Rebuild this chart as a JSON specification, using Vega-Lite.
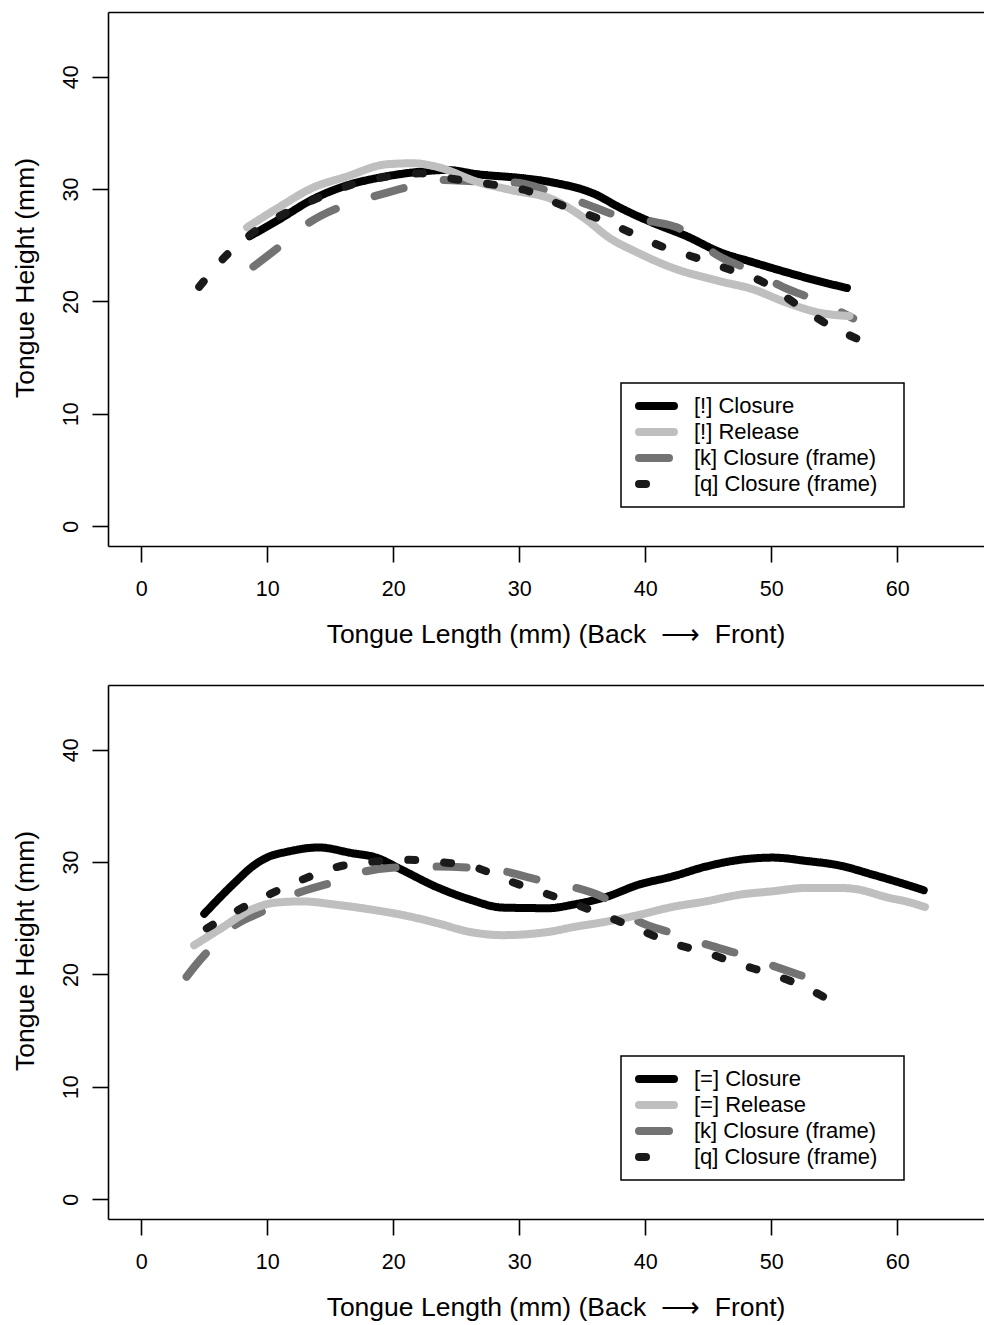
{
  "$schema": "https://vega.github.io/schema/vega-lite/v6.json",
  "padding": {"left": 12, "top": 12, "right": 0, "bottom": 0},
  "spacing": 37,
  "config": {
    "font": "Liberation Sans",
    "view": {"stroke": null},
    "axis": {"domainColor": "black", "domainWidth": 1.6, "tickColor": "black", "tickWidth": 1.6, "tickSize": 16, "labelColor": "black", "labelFontSize": 21.5, "titleColor": "black", "titleFontSize": 26.5, "titleFontWeight": "normal", "grid": false, "labelFlush": false, "labelOverlap": false},
    "axisX": {"labelPadding": 16},
    "axisY": {"labelAngle": -90, "labelAlign": "center", "labelBaseline": "alphabetic", "labelPadding": 14.7},
    "legend": {"orient": "none", "legendX": 513, "legendY": 371, "title": null, "strokeColor": "black", "padding": 10, "symbolType": "stroke", "symbolSize": 1225, "symbolStrokeWidth": 8, "labelFontSize": 22, "labelColor": "black", "labelFont": "Liberation Sans", "labelLimit": 500, "clipHeight": 26, "rowPadding": 0, "labelOffset": 16, "symbolOffset": 4}
  },
  "datasets": {
    "top": [
      {"series": "[!] Closure", "x": 8.6, "y": 25.8}, {"series": "[!] Closure", "x": 10.95, "y": 27.3}, {"series": "[!] Closure", "x": 13.57, "y": 29.07}, {"series": "[!] Closure", "x": 16.27, "y": 30.31}, {"series": "[!] Closure", "x": 18.89, "y": 31.02}, {"series": "[!] Closure", "x": 21.5, "y": 31.47}, {"series": "[!] Closure", "x": 24.2, "y": 31.7}, {"series": "[!] Closure", "x": 26.8, "y": 31.3}, {"series": "[!] Closure", "x": 30.0, "y": 31.0}, {"series": "[!] Closure", "x": 32.6, "y": 30.6}, {"series": "[!] Closure", "x": 36.1, "y": 29.5}, {"series": "[!] Closure", "x": 37.9, "y": 28.4}, {"series": "[!] Closure", "x": 40.6, "y": 27.0}, {"series": "[!] Closure", "x": 43.3, "y": 25.8}, {"series": "[!] Closure", "x": 45.9, "y": 24.4}, {"series": "[!] Closure", "x": 48.5, "y": 23.5}, {"series": "[!] Closure", "x": 51.2, "y": 22.6}, {"series": "[!] Closure", "x": 53.8, "y": 21.8}, {"series": "[!] Closure", "x": 56.0, "y": 21.2},
      {"series": "[k] Closure (frame)", "x": 8.9, "y": 23.1}, {"series": "[k] Closure (frame)", "x": 11.1, "y": 25.0}, {"series": "[k] Closure (frame)", "x": 13.3, "y": 27.0}, {"series": "[k] Closure (frame)", "x": 16.0, "y": 28.5}, {"series": "[k] Closure (frame)", "x": 18.6, "y": 29.4}, {"series": "[k] Closure (frame)", "x": 21.4, "y": 30.25}, {"series": "[k] Closure (frame)", "x": 24.0, "y": 30.8}, {"series": "[k] Closure (frame)", "x": 26.3, "y": 30.7}, {"series": "[k] Closure (frame)", "x": 30.0, "y": 30.55}, {"series": "[k] Closure (frame)", "x": 32.6, "y": 29.7}, {"series": "[k] Closure (frame)", "x": 35.0, "y": 28.8}, {"series": "[k] Closure (frame)", "x": 37.9, "y": 27.6}, {"series": "[k] Closure (frame)", "x": 40.6, "y": 27.1}, {"series": "[k] Closure (frame)", "x": 42.5, "y": 26.6}, {"series": "[k] Closure (frame)", "x": 45.9, "y": 24.0}, {"series": "[k] Closure (frame)", "x": 48.5, "y": 22.7}, {"series": "[k] Closure (frame)", "x": 50.9, "y": 21.3}, {"series": "[k] Closure (frame)", "x": 53.8, "y": 20.0}, {"series": "[k] Closure (frame)", "x": 56.5, "y": 18.5},
      {"series": "[!] Release", "x": 8.4, "y": 26.6}, {"series": "[!] Release", "x": 10.95, "y": 28.4}, {"series": "[!] Release", "x": 13.57, "y": 30.1}, {"series": "[!] Release", "x": 16.27, "y": 31.1}, {"series": "[!] Release", "x": 19.44, "y": 32.2}, {"series": "[!] Release", "x": 21.5, "y": 32.3}, {"series": "[!] Release", "x": 23.4, "y": 32.0}, {"series": "[!] Release", "x": 26.8, "y": 30.6}, {"series": "[!] Release", "x": 29.4, "y": 29.9}, {"series": "[!] Release", "x": 32.6, "y": 29.1}, {"series": "[!] Release", "x": 35.3, "y": 27.3}, {"series": "[!] Release", "x": 37.1, "y": 25.7}, {"series": "[!] Release", "x": 39.3, "y": 24.4}, {"series": "[!] Release", "x": 41.9, "y": 23.1}, {"series": "[!] Release", "x": 45.9, "y": 21.8}, {"series": "[!] Release", "x": 48.5, "y": 21.1}, {"series": "[!] Release", "x": 51.2, "y": 19.9}, {"series": "[!] Release", "x": 53.8, "y": 19.0}, {"series": "[!] Release", "x": 56.2, "y": 18.7},
      {"series": "[q] Closure (frame)", "x": 4.6, "y": 21.3}, {"series": "[q] Closure (frame)", "x": 6.75, "y": 24.1}, {"series": "[q] Closure (frame)", "x": 8.97, "y": 26.2}, {"series": "[q] Closure (frame)", "x": 11.5, "y": 27.9}, {"series": "[q] Closure (frame)", "x": 14.0, "y": 29.2}, {"series": "[q] Closure (frame)", "x": 16.7, "y": 30.4}, {"series": "[q] Closure (frame)", "x": 19.4, "y": 31.1}, {"series": "[q] Closure (frame)", "x": 22.2, "y": 31.4}, {"series": "[q] Closure (frame)", "x": 24.8, "y": 30.9}, {"series": "[q] Closure (frame)", "x": 27.9, "y": 30.4}, {"series": "[q] Closure (frame)", "x": 30.8, "y": 29.8}, {"series": "[q] Closure (frame)", "x": 33.3, "y": 28.6}, {"series": "[q] Closure (frame)", "x": 36.0, "y": 27.5}, {"series": "[q] Closure (frame)", "x": 38.7, "y": 26.2}, {"series": "[q] Closure (frame)", "x": 41.3, "y": 24.9}, {"series": "[q] Closure (frame)", "x": 44.0, "y": 23.9}, {"series": "[q] Closure (frame)", "x": 46.8, "y": 22.8}, {"series": "[q] Closure (frame)", "x": 49.4, "y": 21.7}, {"series": "[q] Closure (frame)", "x": 51.8, "y": 19.9}, {"series": "[q] Closure (frame)", "x": 54.4, "y": 18.0}, {"series": "[q] Closure (frame)", "x": 57.2, "y": 16.5}
    ],
    "bottom": [
      {"series": "[=] Closure", "x": 5.0, "y": 25.4}, {"series": "[=] Closure", "x": 6.19, "y": 26.8}, {"series": "[=] Closure", "x": 7.54, "y": 28.3}, {"series": "[=] Closure", "x": 8.81, "y": 29.6}, {"series": "[=] Closure", "x": 10.16, "y": 30.5}, {"series": "[=] Closure", "x": 11.5, "y": 30.9}, {"series": "[=] Closure", "x": 14.1, "y": 31.3}, {"series": "[=] Closure", "x": 16.7, "y": 30.8}, {"series": "[=] Closure", "x": 18.65, "y": 30.4}, {"series": "[=] Closure", "x": 20.7, "y": 29.3}, {"series": "[=] Closure", "x": 23.4, "y": 27.8}, {"series": "[=] Closure", "x": 26.0, "y": 26.7}, {"series": "[=] Closure", "x": 28.7, "y": 25.95}, {"series": "[=] Closure", "x": 32.4, "y": 25.9}, {"series": "[=] Closure", "x": 34.2, "y": 26.2}, {"series": "[=] Closure", "x": 36.9, "y": 26.9}, {"series": "[=] Closure", "x": 39.5, "y": 28.0}, {"series": "[=] Closure", "x": 42.1, "y": 28.7}, {"series": "[=] Closure", "x": 44.8, "y": 29.6}, {"series": "[=] Closure", "x": 47.5, "y": 30.2}, {"series": "[=] Closure", "x": 50.1, "y": 30.4}, {"series": "[=] Closure", "x": 52.8, "y": 30.1}, {"series": "[=] Closure", "x": 55.4, "y": 29.7}, {"series": "[=] Closure", "x": 58.0, "y": 28.9}, {"series": "[=] Closure", "x": 60.7, "y": 28.0}, {"series": "[=] Closure", "x": 62.1, "y": 27.5},
      {"series": "[k] Closure (frame)", "x": 3.6, "y": 19.8}, {"series": "[k] Closure (frame)", "x": 4.37, "y": 20.9}, {"series": "[k] Closure (frame)", "x": 5.4, "y": 22.2}, {"series": "[k] Closure (frame)", "x": 7.2, "y": 24.2}, {"series": "[k] Closure (frame)", "x": 9.6, "y": 25.6}, {"series": "[k] Closure (frame)", "x": 12.1, "y": 27.1}, {"series": "[k] Closure (frame)", "x": 15.2, "y": 28.2}, {"series": "[k] Closure (frame)", "x": 17.5, "y": 29.1}, {"series": "[k] Closure (frame)", "x": 19.9, "y": 29.5}, {"series": "[k] Closure (frame)", "x": 23.1, "y": 29.6}, {"series": "[k] Closure (frame)", "x": 26.0, "y": 29.5}, {"series": "[k] Closure (frame)", "x": 28.7, "y": 29.2}, {"series": "[k] Closure (frame)", "x": 31.6, "y": 28.4}, {"series": "[k] Closure (frame)", "x": 34.2, "y": 27.8}, {"series": "[k] Closure (frame)", "x": 36.6, "y": 26.9}, {"series": "[k] Closure (frame)", "x": 39.5, "y": 24.7}, {"series": "[k] Closure (frame)", "x": 42.1, "y": 23.7}, {"series": "[k] Closure (frame)", "x": 44.5, "y": 22.8}, {"series": "[k] Closure (frame)", "x": 47.5, "y": 21.8}, {"series": "[k] Closure (frame)", "x": 49.8, "y": 20.9}, {"series": "[k] Closure (frame)", "x": 52.4, "y": 19.9},
      {"series": "[=] Release", "x": 4.2, "y": 22.6}, {"series": "[=] Release", "x": 6.19, "y": 24.0}, {"series": "[=] Release", "x": 8.81, "y": 25.8}, {"series": "[=] Release", "x": 10.7, "y": 26.4}, {"series": "[=] Release", "x": 12.8, "y": 26.5}, {"series": "[=] Release", "x": 15.5, "y": 26.2}, {"series": "[=] Release", "x": 18.1, "y": 25.8}, {"series": "[=] Release", "x": 20.7, "y": 25.3}, {"series": "[=] Release", "x": 23.4, "y": 24.6}, {"series": "[=] Release", "x": 26.0, "y": 23.8}, {"series": "[=] Release", "x": 28.7, "y": 23.5}, {"series": "[=] Release", "x": 32.4, "y": 23.8}, {"series": "[=] Release", "x": 34.2, "y": 24.2}, {"series": "[=] Release", "x": 36.9, "y": 24.7}, {"series": "[=] Release", "x": 39.5, "y": 25.3}, {"series": "[=] Release", "x": 42.1, "y": 26.0}, {"series": "[=] Release", "x": 44.8, "y": 26.5}, {"series": "[=] Release", "x": 47.5, "y": 27.1}, {"series": "[=] Release", "x": 50.1, "y": 27.4}, {"series": "[=] Release", "x": 52.8, "y": 27.7}, {"series": "[=] Release", "x": 55.4, "y": 27.7}, {"series": "[=] Release", "x": 56.7, "y": 27.6}, {"series": "[=] Release", "x": 59.4, "y": 26.8}, {"series": "[=] Release", "x": 60.7, "y": 26.5}, {"series": "[=] Release", "x": 62.2, "y": 26.0},
      {"series": "[q] Closure (frame)", "x": 5.2, "y": 24.1}, {"series": "[q] Closure (frame)", "x": 7.8, "y": 25.8}, {"series": "[q] Closure (frame)", "x": 10.3, "y": 27.2}, {"series": "[q] Closure (frame)", "x": 12.7, "y": 28.4}, {"series": "[q] Closure (frame)", "x": 15.3, "y": 29.5}, {"series": "[q] Closure (frame)", "x": 18.1, "y": 30.0}, {"series": "[q] Closure (frame)", "x": 21.0, "y": 30.2}, {"series": "[q] Closure (frame)", "x": 23.8, "y": 30.0}, {"series": "[q] Closure (frame)", "x": 26.6, "y": 29.5}, {"series": "[q] Closure (frame)", "x": 29.0, "y": 28.4}, {"series": "[q] Closure (frame)", "x": 31.6, "y": 27.4}, {"series": "[q] Closure (frame)", "x": 34.1, "y": 26.4}, {"series": "[q] Closure (frame)", "x": 36.9, "y": 25.2}, {"series": "[q] Closure (frame)", "x": 39.5, "y": 24.0}, {"series": "[q] Closure (frame)", "x": 42.1, "y": 22.8}, {"series": "[q] Closure (frame)", "x": 44.7, "y": 22.0}, {"series": "[q] Closure (frame)", "x": 47.5, "y": 20.9}, {"series": "[q] Closure (frame)", "x": 50.1, "y": 20.0}, {"series": "[q] Closure (frame)", "x": 52.8, "y": 18.8}, {"series": "[q] Closure (frame)", "x": 55.4, "y": 17.2}
    ]
  },
  "resolve": {"scale": {"color": "independent", "strokeDash": "independent"}, "legend": {"color": "independent"}},
  "vconcat": [
    {
      "width": 876, "height": 534,
      "data": {"name": "top"},
      "resolve": {"axis": {"x": "independent"}},
      "layer": [
        {
          "mark": {"type": "line", "strokeWidth": 8, "strokeCap": "round", "strokeJoin": "round", "interpolate": "monotone"},
          "encoding": {
            "x": {"field": "x", "type": "quantitative", "scale": {"domain": [-2.64, 66.88], "nice": false, "zero": false}, "axis": {"values": [0, 10, 20, 30, 40, 50, 60], "title": "Tongue Length (mm) (Back\u00a0\u00a0\u27f6\u00a0\u00a0Front)", "titleX": 447.5, "titleY": 96, "titleBaseline": "alphabetic", "titleAlign": "center", "titleAnchor": null}},
            "y": {"field": "y", "type": "quantitative", "scale": {"domain": [-1.76, 45.76], "nice": false, "zero": false}, "axis": {"values": [0, 10, 20, 30, 40], "title": "Tongue Height (mm)", "titleX": -74.7, "titleY": 265.5, "titleAngle": -90, "titleBaseline": "alphabetic", "titleAlign": "center", "titleAnchor": null}},
            "color": {"field": "series", "type": "nominal", "scale": {"domain": ["[!] Closure", "[!] Release", "[k] Closure (frame)", "[q] Closure (frame)"], "range": ["#000000", "#bfbfbf", "#737373", "#1a1a1a"]}, "legend": {"labelExpr": "datum.label + '\u2800'", "encode": {"symbols": {"update": {"strokeCap": {"value": "round"}, "strokeDash": {"signal": "datum.value === '[q] Closure (frame)' ? [7, 100] : [1, 0]"}}}, "legend": {"update": {"strokeWidth": {"value": 1.5}}}}}},
            "strokeDash": {"field": "series", "type": "nominal", "scale": {"domain": ["[!] Closure", "[!] Release", "[k] Closure (frame)", "[q] Closure (frame)"], "range": [[1, 0], [1, 0], [30, 41], [7, 29]]}, "legend": null}
          }
        },
        {
          "mark": {"type": "point", "opacity": 0},
          "encoding": {
            "x": {"field": "x", "type": "quantitative", "axis": {"orient": "top", "labels": false, "ticks": false, "title": null, "domain": true}},
            "y": {"field": "y", "type": "quantitative"}
          }
        }
      ]
    },
    {
      "width": 876, "height": 534,
      "data": {"name": "bottom"},
      "resolve": {"axis": {"x": "independent"}},
      "layer": [
        {
          "mark": {"type": "line", "strokeWidth": 8, "strokeCap": "round", "strokeJoin": "round", "interpolate": "monotone"},
          "encoding": {
            "x": {"field": "x", "type": "quantitative", "scale": {"domain": [-2.64, 66.88], "nice": false, "zero": false}, "axis": {"values": [0, 10, 20, 30, 40, 50, 60], "title": "Tongue Length (mm) (Back\u00a0\u00a0\u27f6\u00a0\u00a0Front)", "titleX": 447.5, "titleY": 96, "titleBaseline": "alphabetic", "titleAlign": "center", "titleAnchor": null}},
            "y": {"field": "y", "type": "quantitative", "scale": {"domain": [-1.76, 45.76], "nice": false, "zero": false}, "axis": {"values": [0, 10, 20, 30, 40], "title": "Tongue Height (mm)", "titleX": -74.7, "titleY": 265.5, "titleAngle": -90, "titleBaseline": "alphabetic", "titleAlign": "center", "titleAnchor": null}},
            "color": {"field": "series", "type": "nominal", "scale": {"domain": ["[=] Closure", "[=] Release", "[k] Closure (frame)", "[q] Closure (frame)"], "range": ["#000000", "#bfbfbf", "#737373", "#1a1a1a"]}, "legend": {"labelExpr": "datum.label + '\u2800'", "encode": {"symbols": {"update": {"strokeCap": {"value": "round"}, "strokeDash": {"signal": "datum.value === '[q] Closure (frame)' ? [7, 100] : [1, 0]"}}}, "legend": {"update": {"strokeWidth": {"value": 1.5}}}}}},
            "strokeDash": {"field": "series", "type": "nominal", "scale": {"domain": ["[=] Closure", "[=] Release", "[k] Closure (frame)", "[q] Closure (frame)"], "range": [[1, 0], [1, 0], [30, 41], [7, 29]]}, "legend": null}
          }
        },
        {
          "mark": {"type": "point", "opacity": 0},
          "encoding": {
            "x": {"field": "x", "type": "quantitative", "axis": {"orient": "top", "labels": false, "ticks": false, "title": null, "domain": true}},
            "y": {"field": "y", "type": "quantitative"}
          }
        }
      ]
    }
  ]
}
